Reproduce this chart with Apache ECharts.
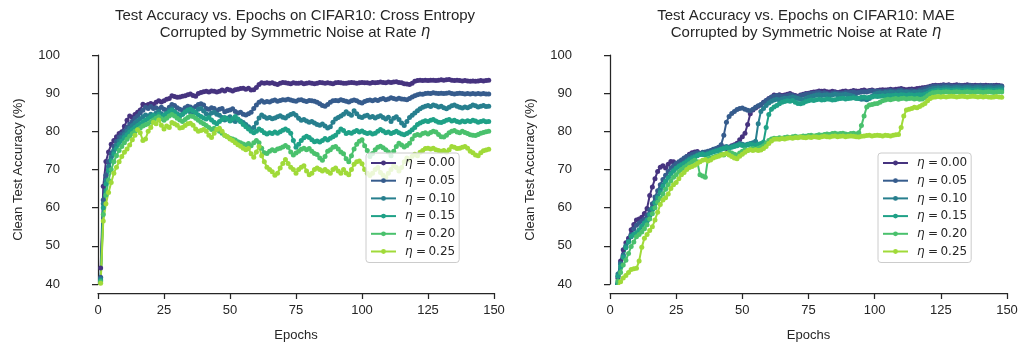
<!DOCTYPE html>
<html>
<head>
<meta charset="utf-8">
<script src="https://cdn.jsdelivr.net/npm/echarts@6/dist/echarts.min.js"></script>
<style>
  html, body { margin: 0; padding: 0; background: #fff; }
  #chart { width: 1022px; height: 347px; }
</style>
</head>
<body>
<div id="chart"></div>
<script>
// epochs 1..148 on the x axis
var epochs = [];
for (var e = 1; e <= 148; e++) epochs.push(e);

var noiseRates = ['0.00', '0.05', '0.10', '0.15', '0.20', '0.25'];
var colors = ['#46337f', '#365c8d', '#277f8e', '#1fa187', '#4ac16d', '#a0da39'];
var yTicks = [40, 50, 60, 70, 80, 90, 100];
var xTicks = [0, 25, 50, 75, 100, 125, 150];

// Cross Entropy, clean test accuracy (%) per epoch
var ce000 = [44.2, 65.6, 72.1, 74.6, 76.6, 77.6, 78.6, 79.4, 79.9, 81.3,
  82.9, 84.0, 83.6, 84.4, 85.0, 85.6, 87.1, 86.8, 87.0, 87.3,
  87.0, 87.6, 88.0, 87.7, 88.0, 88.4, 88.6, 89.3, 89.1, 88.9,
  89.0, 89.2, 89.3, 89.6, 89.8, 89.4, 89.2, 89.9, 90.2, 90.4,
  90.5, 90.3, 90.6, 90.5, 90.3, 90.5, 90.8, 90.6, 91.0, 90.8,
  90.6, 90.9, 91.0, 91.2, 91.3, 91.0, 91.3, 90.8, 90.9, 91.5,
  92.3, 92.7, 92.6, 92.7, 92.6, 92.7, 92.5, 92.3, 92.6, 92.8,
  92.7, 92.6, 92.5, 92.7, 92.6, 92.6, 92.7, 92.5, 92.6, 92.7,
  92.6, 92.5, 92.6, 92.8, 92.7, 92.6, 92.7, 92.6, 92.5, 92.7,
  92.8, 92.7, 92.6, 92.6, 92.7, 92.8, 92.7, 92.6, 92.7, 92.8,
  92.7, 92.7, 92.6, 92.8, 92.7, 92.8, 92.9, 92.8, 92.7, 92.9,
  92.8, 92.9, 93.0, 92.8, 92.7, 92.5, 92.4, 92.3, 92.6, 93.1,
  93.3, 93.4, 93.3, 93.4, 93.3, 93.4, 93.4, 93.3, 93.4, 93.5,
  93.4, 93.5, 93.6, 93.4, 93.3, 93.4, 93.3, 93.2, 93.3, 93.2,
  93.1, 93.2, 93.1, 93.2, 93.3, 93.2, 93.3, 93.4];
var ce005 = [41.8, 62.0, 68.5, 72.0, 74.2, 76.0, 77.4, 78.5, 79.3, 80.0,
  81.0, 81.9, 82.6, 83.4, 84.0, 84.8, 85.5, 86.3, 86.0, 86.5,
  86.0, 86.2, 85.8, 86.3, 85.8, 85.5, 86.3, 87.0, 86.8, 86.2,
  85.8, 85.5, 86.2, 86.6, 86.4, 86.0, 86.5, 87.0, 87.2, 86.9,
  86.0, 85.8, 86.2, 86.0, 85.4, 85.8, 86.0, 85.1, 85.4, 85.6,
  85.9, 85.2, 84.8, 85.0, 84.5, 84.3, 84.6, 85.0, 86.0, 86.9,
  87.6, 88.0, 87.6, 87.8, 87.7, 88.0, 88.2, 87.9, 88.1, 88.3,
  88.2, 88.4, 88.2, 88.0, 87.9, 88.2, 88.3, 88.0, 87.8, 88.1,
  88.0, 87.9, 87.6, 87.2, 86.8, 86.6, 87.0, 87.6, 88.0, 88.1,
  88.0, 88.3, 88.1, 87.9, 87.7, 88.0, 88.2, 88.0, 87.6, 87.4,
  87.8, 88.1, 88.2, 88.0, 88.3, 88.1, 88.4, 88.6, 88.3, 88.5,
  88.8, 88.6, 88.4, 88.7, 88.5, 88.4, 88.3, 88.6, 89.0, 89.3,
  89.6, 89.8, 89.7, 89.9, 90.0, 89.9, 90.1, 90.0, 89.9, 90.0,
  89.9, 90.0, 90.1, 89.9, 89.8, 89.9, 90.0, 89.9, 89.8, 89.9,
  89.8, 89.9, 89.8, 89.9, 89.8, 89.9, 89.8, 89.8];
var ce010 = [41.3, 61.0, 67.2, 70.8, 73.2, 75.0, 76.4, 77.5, 78.4, 79.2,
  80.0, 80.8, 81.5, 82.2, 82.8, 83.3, 83.8, 84.3, 84.0, 84.5,
  84.2, 84.8, 85.2, 84.6, 84.2, 84.8, 85.5, 85.9, 85.2, 84.6,
  84.2, 84.5, 85.2, 85.6, 85.0, 84.5, 85.0, 85.8, 86.0, 85.3,
  84.6, 84.2, 84.8, 85.0, 84.5, 84.2, 83.6, 83.0, 83.4, 83.8,
  83.0, 82.6, 83.1, 82.7, 82.3, 81.8, 81.2, 80.6, 81.0, 82.2,
  83.5, 84.3, 83.8, 83.4, 83.6, 83.3, 83.5, 83.8, 84.1, 83.7,
  83.5, 84.0, 84.4, 84.7, 84.2, 83.4, 82.9, 83.1, 82.7, 82.4,
  82.6, 82.2, 81.8, 81.6, 81.9, 81.4, 80.9, 81.2, 82.4, 83.2,
  83.6, 84.0, 84.5, 85.1, 84.6, 84.2, 85.4, 84.6, 83.8, 83.6,
  84.0, 84.2, 83.7, 83.9, 83.5, 83.8, 84.1, 83.6, 83.2, 83.7,
  82.6, 83.4, 83.8, 83.1, 82.2, 81.5, 82.6, 83.6, 84.2, 84.8,
  85.4, 85.9, 86.3, 86.6, 86.8, 86.5, 86.9, 86.7, 86.4, 86.6,
  86.2, 85.9, 86.3, 86.7, 86.9, 86.6, 86.3, 86.1, 86.4, 86.2,
  86.5, 86.9, 86.7, 86.4, 86.6, 86.8, 86.5, 86.6];
var ce015 = [40.9, 60.0, 66.2, 69.8, 72.3, 74.1, 75.5, 76.6, 77.5, 78.4,
  79.1, 79.8, 80.4, 81.0, 81.5, 82.0, 82.5, 82.9, 83.3, 83.8,
  84.2, 83.9, 84.5, 83.8, 84.2, 84.6, 85.0, 85.5, 85.0, 84.4,
  84.0, 84.5, 85.0, 85.5, 85.8, 85.4, 84.9, 84.3, 83.9, 83.5,
  83.2, 83.6, 83.0, 82.4, 82.0, 82.6, 83.1, 83.6, 83.2, 82.7,
  83.3, 83.9, 83.2, 82.5, 81.8, 81.2, 80.6, 80.0, 79.6, 80.0,
  80.6, 80.2, 79.6, 79.3, 79.6, 79.4, 79.8, 79.5, 79.9, 80.3,
  80.6, 80.2, 79.5, 77.6, 75.8, 76.6, 77.6, 78.3, 78.7, 78.4,
  77.8, 77.3, 77.5, 77.2, 77.6, 78.1, 77.7, 78.2, 78.6, 79.0,
  79.8, 80.6, 80.2, 79.4, 79.7, 79.5, 79.9, 80.2, 79.8, 80.1,
  79.7, 79.4, 79.6, 79.3, 79.5, 80.0, 80.5, 80.1, 79.6, 79.8,
  79.4, 79.7, 80.0, 79.6, 79.3, 79.1, 79.4, 79.8, 80.4, 81.0,
  81.8, 82.2, 82.5, 82.8, 82.6, 82.9, 83.1, 82.7, 82.4, 82.3,
  82.6, 82.9, 83.1, 82.7, 82.9, 82.6, 82.4, 82.7, 82.5, 82.8,
  82.6, 82.9, 82.7, 82.4, 82.6, 82.8, 82.5, 82.6];
var ce020 = [40.6, 58.2, 63.3, 67.2, 70.0, 72.0, 73.6, 75.0, 76.0, 77.0,
  77.9, 78.7, 79.4, 80.0, 80.4, 80.9, 81.4, 81.7, 82.0, 82.5,
  83.0, 83.4, 83.8, 83.3, 82.9, 83.4, 84.0, 84.4, 84.0, 83.4,
  83.0, 82.6, 83.1, 83.6, 84.0, 83.9, 83.4, 82.9, 82.4, 82.0,
  81.5, 81.0, 80.5, 80.8, 80.4, 80.0, 79.5, 79.0, 78.6, 78.2,
  78.0, 77.7, 77.3, 77.0, 76.7, 76.4, 76.8, 76.2, 77.0, 77.6,
  77.0, 75.6, 74.4, 74.2, 74.8, 75.2, 74.9, 75.4, 75.6, 75.9,
  76.3, 75.8, 74.6, 73.8, 74.3, 74.8, 75.3, 75.6, 75.2, 75.5,
  74.8, 74.2, 73.9, 73.0, 72.4, 73.4, 74.8, 75.2, 75.8, 76.0,
  75.4, 74.6, 74.1, 72.8, 72.0, 73.6, 75.4, 76.6, 77.4, 77.8,
  76.2, 75.0, 73.4, 74.2, 75.2, 75.8, 76.1, 75.7, 75.2, 74.6,
  73.6, 74.8, 76.0, 76.9, 76.4, 75.9, 76.3, 76.9, 78.0, 78.9,
  79.2, 79.0, 79.4, 79.6, 79.3, 79.7, 80.0, 79.8, 79.2, 78.6,
  78.5, 79.0, 79.6, 80.0, 80.2, 79.8, 79.6, 80.0, 79.7, 79.4,
  79.1, 79.0, 78.9, 79.2, 79.5, 79.7, 79.9, 80.0];
var ce025 = [40.2, 56.5, 61.0, 64.0, 66.6, 69.0, 70.6, 72.0, 73.4, 74.5,
  75.4, 76.4, 77.8, 79.0, 80.4, 79.6, 77.6, 78.0, 80.0, 81.0,
  82.4, 82.0, 83.0, 81.6, 80.6, 81.4, 81.0, 82.3, 82.0, 81.6,
  80.9, 81.0, 81.5, 82.0, 82.1, 81.6, 80.6, 80.0, 80.2, 80.5,
  80.0, 79.0, 78.4, 79.5, 80.5, 80.8, 80.0, 79.0, 78.6, 78.0,
  77.6, 77.0, 76.5, 76.1, 75.6, 75.2, 75.5, 74.1, 73.2, 74.6,
  76.0, 73.6, 72.0, 70.6, 70.0, 69.4, 68.5, 69.0, 70.4, 71.6,
  72.6, 71.6, 70.6, 70.0, 69.0, 70.0, 70.6, 71.0, 69.6, 68.6,
  69.0, 70.0, 70.4, 70.0, 69.6, 70.0, 69.5, 69.0, 70.0, 70.4,
  69.6, 69.0, 70.0, 69.1, 68.6, 70.0, 71.4, 72.0, 72.2, 71.5,
  70.0, 69.0, 68.4, 69.0, 70.0, 70.5, 69.2, 68.5, 68.0, 69.0,
  70.0, 71.0, 70.5, 69.6, 70.5, 72.0, 73.0, 72.5, 73.5, 74.0,
  73.6, 74.5, 75.0, 75.5, 75.6, 75.4, 75.6, 75.2, 75.0, 74.8,
  75.0, 74.5, 75.2, 76.0, 75.8, 75.5, 75.6, 75.8, 76.0, 75.6,
  74.8, 74.4, 73.8, 73.6, 74.4, 74.9, 75.1, 75.3];

// MAE, clean test accuracy (%) per epoch (first epochs fall below the 40 floor)
var mae000 = [33.0, 37.5, 41.5, 46.0, 49.0, 50.8, 52.0, 54.2, 55.6, 56.8,
  57.0, 57.5, 58.5, 59.8, 63.2, 65.4, 67.6, 69.5, 70.6, 71.0,
  70.4, 71.4, 72.1, 72.0, 71.6, 71.5, 72.3, 72.8, 73.4, 74.0,
  74.4, 74.6, 74.7, 74.1, 74.0, 74.3, 74.5, 74.8, 75.0, 75.2,
  75.5, 75.7, 75.9, 75.5, 75.8, 76.2, 76.5, 76.9, 77.8, 78.6,
  79.5, 81.8, 84.6, 85.6, 86.1, 86.6, 86.9, 87.6, 88.1, 88.6,
  89.0, 89.5, 89.3, 89.6, 89.4, 89.5, 89.7, 89.9, 89.6, 89.4,
  89.2, 89.5, 89.7, 89.9, 90.0, 90.2, 90.3, 90.4, 90.6, 90.5,
  90.6, 90.4, 90.3, 90.5, 90.4, 90.2, 90.3, 90.5, 90.6, 90.4,
  90.5, 90.7, 90.6, 90.5, 90.7, 90.8, 90.6, 90.7, 90.8, 90.6,
  90.7, 90.8, 90.9, 90.8, 90.9, 91.0, 90.9, 91.0, 91.1, 91.2,
  91.0, 90.9, 91.0, 91.1, 91.0, 91.2, 91.3, 91.4, 91.5, 91.6,
  91.8, 92.0, 92.1, 92.0, 92.1, 92.2, 92.1, 92.2, 92.0, 92.1,
  92.2, 92.1, 92.0, 92.1, 92.2, 92.1, 92.0, 92.1, 92.0, 92.1,
  92.0, 92.1, 92.0, 91.9, 92.0, 92.1, 92.0, 91.9];
var mae005 = [34.0, 38.5, 42.0, 45.5, 47.6, 49.6, 51.2, 53.0, 54.4, 55.4,
  56.0, 56.5, 57.0, 58.0, 59.4, 61.0, 62.8, 64.4, 66.0, 67.4,
  68.5, 69.5, 70.4, 71.0, 71.6, 72.0, 72.5, 73.0, 73.4, 73.6,
  74.0, 74.2, 74.4, 74.2, 74.5, 74.6, 74.8, 75.0, 75.3, 75.5,
  75.8, 76.5, 79.0, 82.4, 83.9, 84.7, 85.2, 85.7, 86.0, 86.1,
  85.8, 85.5, 85.4, 85.8, 86.3, 86.7, 87.0, 87.5, 88.0, 88.5,
  88.9, 89.2, 89.4, 89.3, 89.1, 89.2, 89.4, 89.6, 89.4, 89.2,
  89.0, 89.3, 89.5, 89.7, 89.8, 89.9, 90.0, 90.1, 90.2, 90.0,
  90.1, 89.9, 89.8, 90.0, 90.1, 90.0, 89.9, 90.0, 90.2, 90.1,
  90.2, 90.3, 90.1, 90.2, 90.3, 90.4, 90.3, 90.5, 90.6, 90.5,
  90.6, 90.5, 90.4, 90.5, 90.6, 90.7, 90.6, 90.5, 90.7, 90.8,
  90.6, 90.5, 90.6, 90.7, 90.5, 90.6, 90.8, 91.0, 91.2, 91.4,
  91.6, 91.8, 91.9, 91.8, 91.9, 92.0, 91.9, 92.0, 91.9, 91.8,
  91.9, 92.0, 91.9, 91.8, 91.9, 92.0, 91.9, 91.8, 91.9, 92.0,
  91.9, 91.8, 91.9, 92.0, 91.9, 91.8, 91.9, 91.8];
var mae010 = [34.5, 38.8, 42.6, 45.2, 47.4, 50.0, 51.2, 52.4, 53.0, 53.2,
  54.0, 55.0, 56.0, 56.6, 58.0, 59.6, 61.4, 63.0, 64.6, 66.0,
  67.0, 68.0, 69.0, 69.8, 70.4, 71.0, 71.4, 71.8, 72.3, 72.8,
  73.2, 73.5, 73.8, 74.0, 74.2, 74.0, 74.3, 74.5, 74.7, 75.0,
  75.2, 75.4, 75.7, 76.0, 75.8, 76.0, 76.3, 76.5, 76.8, 76.6,
  76.4, 76.6, 76.8, 77.0, 77.4, 82.0, 85.2, 86.0, 86.8, 87.4,
  87.9, 88.2, 88.4, 88.2, 88.5, 88.7, 88.6, 88.8, 89.0, 88.8,
  88.6, 88.4, 88.3, 88.6, 88.9, 89.1, 89.3, 89.5, 89.6, 89.4,
  89.5, 89.6, 89.4, 89.5, 89.7, 89.6, 89.5, 89.6, 89.7, 89.5,
  89.4, 89.2, 88.9, 88.6, 88.4, 88.5, 88.3, 88.6, 89.2, 89.8,
  90.0, 90.1, 90.0, 90.2, 90.1, 90.3, 90.2, 90.1, 90.3, 90.4,
  90.2, 90.3, 90.2, 90.1, 90.3, 90.2, 90.4, 90.3, 90.5, 90.7,
  91.0, 91.2, 91.3, 91.4, 91.3, 91.4, 91.5, 91.4, 91.3, 91.4,
  91.5, 91.4, 91.3, 91.4, 91.5, 91.4, 91.3, 91.4, 91.5, 91.4,
  91.3, 91.4, 91.5, 91.4, 91.3, 91.4, 91.5, 91.4];
var mae015 = [34.0, 38.0, 42.0, 44.6, 47.0, 49.5, 51.0, 52.5, 53.0, 53.4,
  54.2, 55.2, 56.0, 56.8, 58.2, 59.8, 61.2, 62.6, 64.0, 65.6,
  66.8, 67.8, 68.8, 69.6, 70.3, 70.8, 71.2, 71.6, 72.0, 72.5,
  72.8, 73.2, 73.6, 73.9, 74.0, 73.8, 74.0, 74.3, 74.6, 74.8,
  75.0, 75.3, 75.5, 75.7, 75.5, 75.8, 76.0, 76.2, 76.5, 76.3,
  76.2, 76.4, 76.6, 76.5, 76.3, 76.6, 76.8, 77.2, 81.0, 84.4,
  85.8, 86.4, 86.8, 87.2, 87.6, 87.8, 88.0, 87.9, 88.1, 87.6,
  87.3, 87.2, 87.4, 87.8, 88.0, 88.2, 88.1, 88.3, 88.4, 88.2,
  88.3, 88.5, 88.4, 88.2, 88.3, 88.5, 88.6, 88.7, 88.5, 88.6,
  88.7, 88.8, 88.6, 88.7, 88.9, 89.0, 88.8, 88.9, 89.0, 89.2,
  89.1, 89.2, 89.3, 89.2, 89.4, 89.3, 89.4, 89.5, 89.4, 89.6,
  89.5, 89.4, 89.6, 89.5, 89.4, 89.5, 89.6, 89.5, 89.7, 90.0,
  90.4, 90.6, 90.7, 90.8, 90.7, 90.8, 90.9, 90.8, 90.7, 90.8,
  90.9, 90.8, 90.7, 90.8, 90.9, 90.8, 90.7, 90.8, 90.9, 90.8,
  90.7, 90.8, 90.9, 90.8, 90.7, 90.8, 90.9, 90.8];
var mae020 = [33.0, 37.0, 40.8, 43.0, 45.0, 46.2, 48.0, 49.8, 51.0, 52.4,
  53.0, 53.6, 54.5, 55.5, 57.0, 58.4, 60.0, 61.4, 62.5, 63.6,
  64.8, 66.0, 67.0, 68.0, 68.6, 69.4, 70.0, 70.5, 71.0, 71.5,
  72.0, 72.4, 72.0, 68.6, 68.3, 68.0, 72.8, 73.0, 73.2, 73.5,
  73.7, 74.0, 73.8, 74.2, 74.5, 74.3, 74.0, 73.8, 74.3, 74.8,
  75.2, 75.0, 75.3, 75.5, 75.3, 75.6, 75.8, 76.2, 76.9, 77.6,
  78.0, 78.2, 78.1, 78.3, 78.2, 78.4, 78.5, 78.4, 78.6, 78.7,
  78.5, 78.6, 78.8, 78.7, 78.9, 79.0, 78.8, 78.9, 79.1, 79.0,
  79.2, 79.3, 79.2, 79.4, 79.5, 79.3, 79.4, 79.5, 79.3, 79.2,
  79.4, 79.5, 79.3, 79.6, 81.5, 84.0, 86.4, 86.9, 87.0, 87.2,
  87.3, 87.6, 88.0, 88.2, 88.4, 88.3, 88.5, 88.6, 88.4, 88.6,
  88.7, 88.5, 88.6, 88.7, 88.5, 88.6, 88.4, 88.5, 88.8, 89.3,
  89.8, 90.1, 90.2, 90.3, 90.2, 90.3, 90.4, 90.3, 90.2, 90.3,
  90.4, 90.3, 90.2, 90.3, 90.4, 90.3, 90.2, 90.3, 90.4, 90.3,
  90.2, 90.3, 90.4, 90.3, 90.2, 90.3, 90.4, 90.3];
var mae025 = [32.0, 36.0, 39.4, 40.6, 41.6, 42.2, 43.0, 43.8, 44.0, 44.1,
  46.0, 49.6, 52.0, 53.0, 54.0, 55.0, 56.8, 58.8, 60.8, 62.0,
  62.6, 63.6, 65.0, 66.0, 66.6, 67.6, 68.6, 69.2, 70.0, 70.5,
  70.8, 71.1, 71.6, 72.0, 72.4, 72.6, 72.2, 72.5, 73.0, 73.3,
  73.5, 73.8, 74.0, 74.2, 73.8, 73.4, 73.0, 72.8, 73.5, 74.0,
  74.5, 75.0, 75.2, 75.0, 75.2, 75.0, 75.1, 75.5, 76.0, 76.8,
  77.5, 77.9, 78.0, 77.9, 78.1, 78.0, 78.2, 78.3, 78.2, 78.4,
  78.3, 78.5, 78.4, 78.3, 78.5, 78.4, 78.6, 78.5, 78.4, 78.6,
  78.7, 78.6, 78.5, 78.7, 78.8, 78.6, 78.7, 78.8, 78.6, 78.7,
  78.8, 78.7, 78.6, 78.5, 78.7, 78.8, 78.9, 79.0, 78.8, 78.9,
  79.0, 78.9, 78.8, 79.0, 78.9, 78.8, 79.0, 79.1, 79.2, 81.0,
  84.0, 85.6, 85.8, 86.0, 86.3, 86.2, 86.5, 86.9, 87.3, 88.0,
  88.6, 88.9, 89.0, 89.1, 89.0, 89.1, 89.0, 89.1, 89.2, 89.1,
  89.0, 89.1, 89.2, 89.1, 89.0, 89.1, 89.2, 89.1, 89.0, 89.1,
  89.0, 89.1, 89.0, 88.9, 89.0, 89.1, 89.0, 88.9];

var ceSeries = [ce000, ce005, ce010, ce015, ce020, ce025];
var maeSeries = [mae000, mae005, mae010, mae015, mae020, mae025];

var ink = '#262626';
var names = noiseRates.map(function (r) { return 'η = ' + r; });

function pairs(vals) {
  return vals.map(function (v, i) { return [epochs[i], v]; });
}

function makeSeries(list, axisIndex) {
  return list.map(function (vals, i) {
    return {
      name: names[i],
      type: 'line',
      xAxisIndex: axisIndex,
      yAxisIndex: axisIndex,
      data: pairs(vals),
      color: colors[i],
      symbol: 'circle',
      symbolSize: 5,
      showSymbol: true,
      lineStyle: { width: 2 },
      emphasis: { disabled: true },
      clip: true
    };
  });
}

function xAxisFor(gridIndex) {
  return {
    type: 'value', gridIndex: gridIndex, min: 0, max: 150, interval: 25,
    offset: 9,
    name: 'Epochs', nameLocation: 'middle', nameGap: 36,
    nameTextStyle: { fontFamily: 'Liberation Sans', fontSize: 13, color: ink },
    axisLine: { show: true, lineStyle: { color: ink, width: 1.25 } },
    axisTick: { show: true, length: 6, lineStyle: { color: ink, width: 1.25 } },
    axisLabel: { margin: 11, fontFamily: 'Liberation Sans', fontSize: 13, color: ink,
      customValues: xTicks },
    splitLine: { show: false }
  };
}

function yAxisFor(gridIndex) {
  return {
    type: 'value', gridIndex: gridIndex, min: 40, max: 100, interval: 10,
    offset: 25,
    name: 'Clean Test Accuracy (%)', nameLocation: 'middle', nameGap: 48,
    nameTextStyle: { fontFamily: 'Liberation Sans', fontSize: 13, color: ink },
    axisLine: { show: true, lineStyle: { color: ink, width: 1.25 } },
    axisTick: { show: true, length: 6, lineStyle: { color: ink, width: 1.25 } },
    axisLabel: { margin: 13, fontFamily: 'Liberation Sans', fontSize: 13, color: ink,
      customValues: yTicks },
    splitLine: { show: false }
  };
}

function titleFor(x, method) {
  return {
    text: 'Test Accuracy vs. Epochs on CIFAR10: ' + method + '\nCorrupted by Symmetric Noise at Rate {i|η}',
    left: x, top: 7, textAlign: 'center', padding: 0,
    textStyle: {
      fontFamily: 'Liberation Sans', fontSize: 15, fontWeight: 'normal', color: ink, lineHeight: 17,
      rich: { i: { fontFamily: 'DejaVu Sans', fontStyle: 'italic', fontSize: 15, color: ink, lineHeight: 17 } }
    }
  };
}

function legendFor(x) {
  return {
    data: names, orient: 'vertical', left: x, top: 153,
    itemWidth: 25, itemHeight: 6, itemGap: 3.7,
    padding: [3, 4, 4, 4],
    backgroundColor: 'rgba(255,255,255,0.8)', borderColor: '#cccccc', borderWidth: 1, borderRadius: 3,
    selectedMode: false,
    // thin spaces around "=" like the math text in the original legend
    formatter: function (name) { return '{i|η}{t|\u2009=\u2009' + name.slice(4) + '}'; },
    textStyle: {
      fontFamily: 'DejaVu Sans', fontSize: 12, color: ink, lineHeight: 14,
      rich: {
        i: { fontFamily: 'DejaVu Sans', fontStyle: 'italic', fontSize: 12, color: ink, padding: [0, 1, 0, 4] },
        t: { fontFamily: 'DejaVu Sans', fontSize: 12, color: ink }
      }
    }
  };
}

var myChart = echarts.init(document.getElementById('chart'), null, { renderer: 'canvas' });
myChart.setOption({
  animation: false,
  backgroundColor: '#ffffff',
  title: [titleFor(295, 'Cross Entropy'), titleFor(806, 'MAE')],
  grid: [
    { left: 98, top: 55, width: 396, height: 229 },
    { left: 610, top: 55, width: 397, height: 229 }
  ],
  xAxis: [xAxisFor(0), xAxisFor(1)],
  yAxis: [yAxisFor(0), yAxisFor(1)],
  legend: [legendFor(366), legendFor(878)],
  series: makeSeries(ceSeries, 0).concat(makeSeries(maeSeries, 1))
});
</script>
</body>
</html>
